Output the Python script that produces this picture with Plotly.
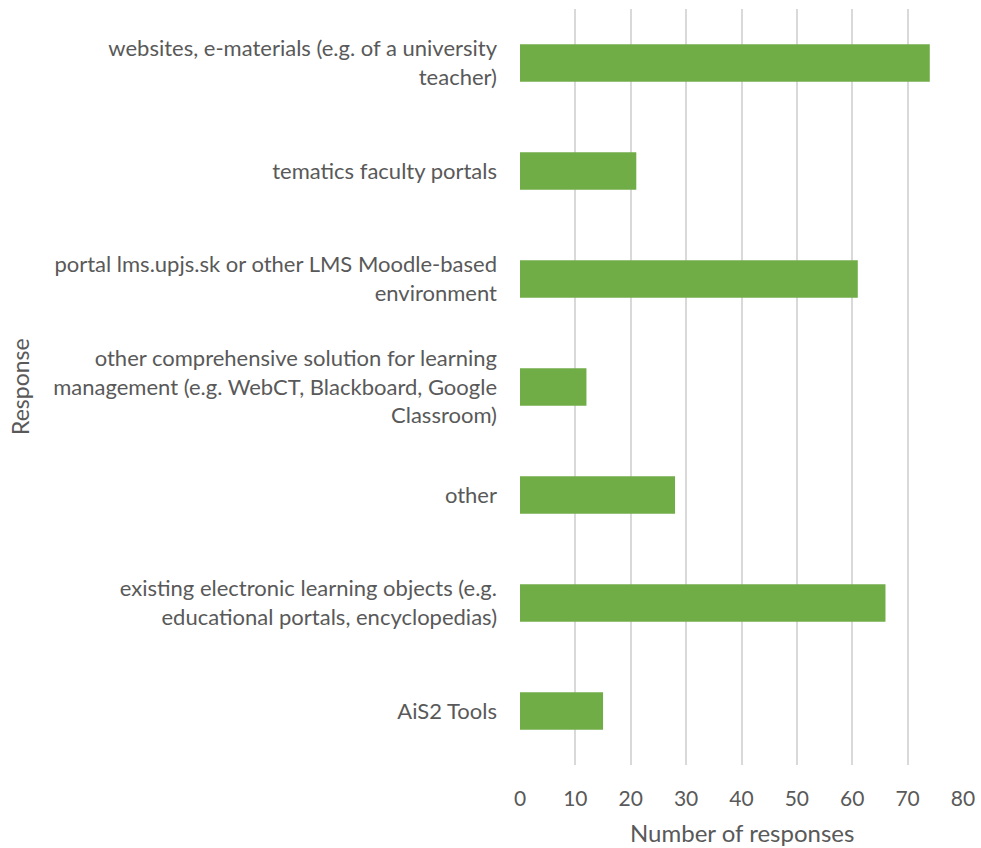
import plotly.graph_objects as go

categories = [
    "AiS2 Tools",
    "existing electronic learning objects (e.g.<br>educational portals, encyclopedias)",
    "other",
    "other comprehensive solution for learning<br>management (e.g. WebCT, Blackboard, Google<br>Classroom)",
    "portal lms.upjs.sk or other LMS Moodle-based<br>environment",
    "tematics faculty portals",
    "websites, e-materials (e.g. of a university<br>teacher)",
]
values = [15, 66, 28, 12, 61, 21, 74]
x_ticks = [0, 10, 20, 30, 40, 50, 60, 70, 80]
x_title = "Number of responses"
y_title = "Response"

font_family = "Lato, 'Open Sans', sans-serif"
text_color = "#595959"

fig = go.Figure(
    go.Bar(
        y=categories,
        x=values,
        orientation="h",
        marker=dict(color="#70AD47", line=dict(width=0)),
    )
)

fig.update_layout(
    width=981,
    height=848,
    margin=dict(l=520, r=18, t=9, b=83),
    paper_bgcolor="white",
    plot_bgcolor="white",
    bargap=0.655,
    showlegend=False,
    font=dict(family=font_family, size=22, color=text_color),
)

fig.update_xaxes(
    range=[0, 80],
    tickvals=x_ticks,
    showgrid=True,
    gridcolor="#D9D9D9",
    gridwidth=1.5,
    zeroline=False,
    showline=False,
    ticklabelstandoff=19,
    ticklabeloverflow="allow",
    tickfont=dict(size=21, color=text_color),
    automargin=False,
)

fig.update_yaxes(
    showgrid=False,
    zeroline=False,
    showline=False,
    ticklabelstandoff=22,
    tickfont=dict(size=22, color=text_color),
    automargin=False,
)

fig.add_annotation(
    text=x_title, x=0.5, y=0, xref="paper", yref="paper",
    xanchor="center", yanchor="middle", yshift=-67, showarrow=False,
    font=dict(size=24, color=text_color),
)
fig.add_annotation(
    text=y_title, x=0, y=0.5, xref="paper", yref="paper",
    xanchor="center", yanchor="middle", xshift=20 - 520, showarrow=False,
    textangle=-90, font=dict(size=23, color=text_color),
)

fig.write_html(
    "out.html",
    config={"displayModeBar": False},
    post_script="document.body.style.margin='0px';document.body.style.overflow='hidden';",
)
